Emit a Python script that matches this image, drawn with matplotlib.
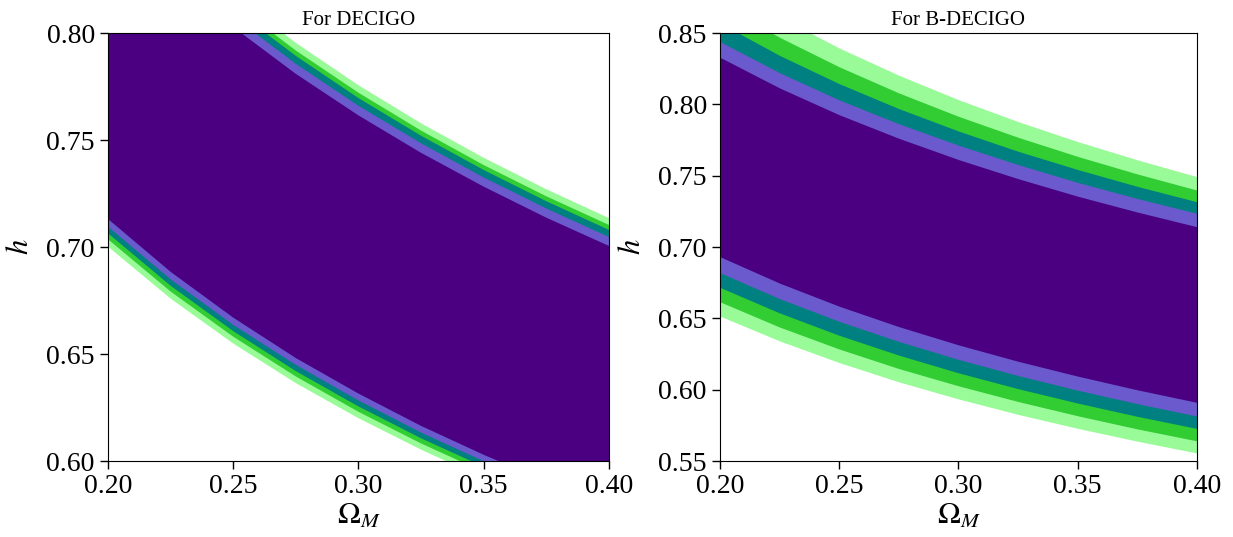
import matplotlib.pyplot as plt

plt.rcParams['font.family'] = ['Liberation Serif', 'DejaVu Serif']
plt.rcParams['mathtext.fontset'] = 'stix'

om = [0.20, 0.225, 0.25, 0.275, 0.30, 0.325, 0.35, 0.375, 0.40]

# DECIGO band edges (h)
dec_pale_hi = [0.8723, 0.8431, 0.8177, 0.7954, 0.7756, 0.7578, 0.7417, 0.7270, 0.7135]
dec_lime_hi = [0.8684, 0.8393, 0.8140, 0.7918, 0.7721, 0.7544, 0.7383, 0.7237, 0.7103]
dec_teal_hi = [0.8656, 0.8366, 0.8114, 0.7893, 0.7696, 0.7520, 0.7360, 0.7214, 0.7080]
dec_blue_hi = [0.8616, 0.8327, 0.8076, 0.7856, 0.7660, 0.7485, 0.7325, 0.7180, 0.7047]
dec_indi_hi = [0.8564, 0.8277, 0.8028, 0.7809, 0.7615, 0.7440, 0.7282, 0.7137, 0.7005]
dec_indi_lo = [0.7131, 0.6884, 0.6670, 0.6481, 0.6315, 0.6164, 0.6029, 0.5905, 0.5793]
dec_blue_lo = [0.7095, 0.6849, 0.6636, 0.6449, 0.6283, 0.6133, 0.5999, 0.5875, 0.5763]
dec_teal_lo = [0.7064, 0.6819, 0.6607, 0.6420, 0.6255, 0.6106, 0.5973, 0.5850, 0.5738]
dec_lime_lo = [0.7036, 0.6792, 0.6581, 0.6395, 0.6230, 0.6082, 0.5949, 0.5826, 0.5715]
dec_pale_lo = [0.7002, 0.6759, 0.6549, 0.6364, 0.6200, 0.6053, 0.5920, 0.5798, 0.5688]

# B-DECIGO band edges
bdec_pale_hi = [0.8861, 0.8613, 0.8395, 0.8204, 0.8033, 0.7879, 0.7739, 0.7611, 0.7493]
bdec_lime_hi = [0.8708, 0.8470, 0.8263, 0.8080, 0.7916, 0.7769, 0.7635, 0.7512, 0.7399]
bdec_teal_hi = [0.8570, 0.8343, 0.8145, 0.7970, 0.7813, 0.7671, 0.7543, 0.7425, 0.7317]
bdec_blue_hi = [0.8440, 0.8222, 0.8031, 0.7864, 0.7714, 0.7578, 0.7453, 0.7340, 0.7236]
bdec_indi_hi = [0.8330, 0.8115, 0.7927, 0.7762, 0.7613, 0.7479, 0.7356, 0.7245, 0.7142]
bdec_indi_lo = [0.6932, 0.6747, 0.6585, 0.6442, 0.6314, 0.6199, 0.6095, 0.5999, 0.5911]
bdec_blue_lo = [0.6820, 0.6638, 0.6479, 0.6338, 0.6212, 0.6099, 0.5996, 0.5902, 0.5815]
bdec_teal_lo = [0.6717, 0.6538, 0.6381, 0.6242, 0.6118, 0.6007, 0.5906, 0.5813, 0.5728]
bdec_lime_lo = [0.6616, 0.6439, 0.6285, 0.6148, 0.6027, 0.5917, 0.5817, 0.5725, 0.5641]
bdec_pale_lo = [0.6516, 0.6342, 0.6190, 0.6055, 0.5935, 0.5827, 0.5729, 0.5639, 0.5556]

colors = ['palegreen', 'limegreen', 'teal', 'slateblue', 'indigo']

fig = plt.figure(figsize=(12.33, 5.37), dpi=100)
ax1 = fig.add_axes([0.0876, 0.1415, 0.4063, 0.797])
ax2 = fig.add_axes([0.5839, 0.1415, 0.3869, 0.797])

panels = [
    (ax1, 'For DECIGO', (0.60, 0.80), [0.60, 0.65, 0.70, 0.75, 0.80],
     [(dec_pale_lo, dec_pale_hi), (dec_lime_lo, dec_lime_hi), (dec_teal_lo, dec_teal_hi),
      (dec_blue_lo, dec_blue_hi), (dec_indi_lo, dec_indi_hi)]),
    (ax2, 'For B-DECIGO', (0.55, 0.85), [0.55, 0.60, 0.65, 0.70, 0.75, 0.80, 0.85],
     [(bdec_pale_lo, bdec_pale_hi), (bdec_lime_lo, bdec_lime_hi), (bdec_teal_lo, bdec_teal_hi),
      (bdec_blue_lo, bdec_blue_hi), (bdec_indi_lo, bdec_indi_hi)]),
]

for ax, title, ylim, yticks, bands in panels:
    for (lo, hi), c in zip(bands, colors):
        ax.fill_between(om, lo, hi, color=c, linewidth=0)
    ax.set_xlim(0.20, 0.40)
    ax.set_ylim(*ylim)
    ax.set_xticks([0.20, 0.25, 0.30, 0.35, 0.40])
    ax.set_yticks(yticks)
    ax.set_xticklabels(['%.2f' % v for v in [0.20, 0.25, 0.30, 0.35, 0.40]])
    ax.set_yticklabels(['%.2f' % v for v in yticks])
    ax.tick_params(labelsize=20, length=6, width=1)
    ax.set_title(title, fontsize=15, pad=6)
    ax.set_xlabel(r'$\Omega_M$', fontsize=22, labelpad=2)
    ax.set_ylabel(r'$h$', fontsize=22, labelpad=8)

fig.savefig('out.png', dpi=100)
